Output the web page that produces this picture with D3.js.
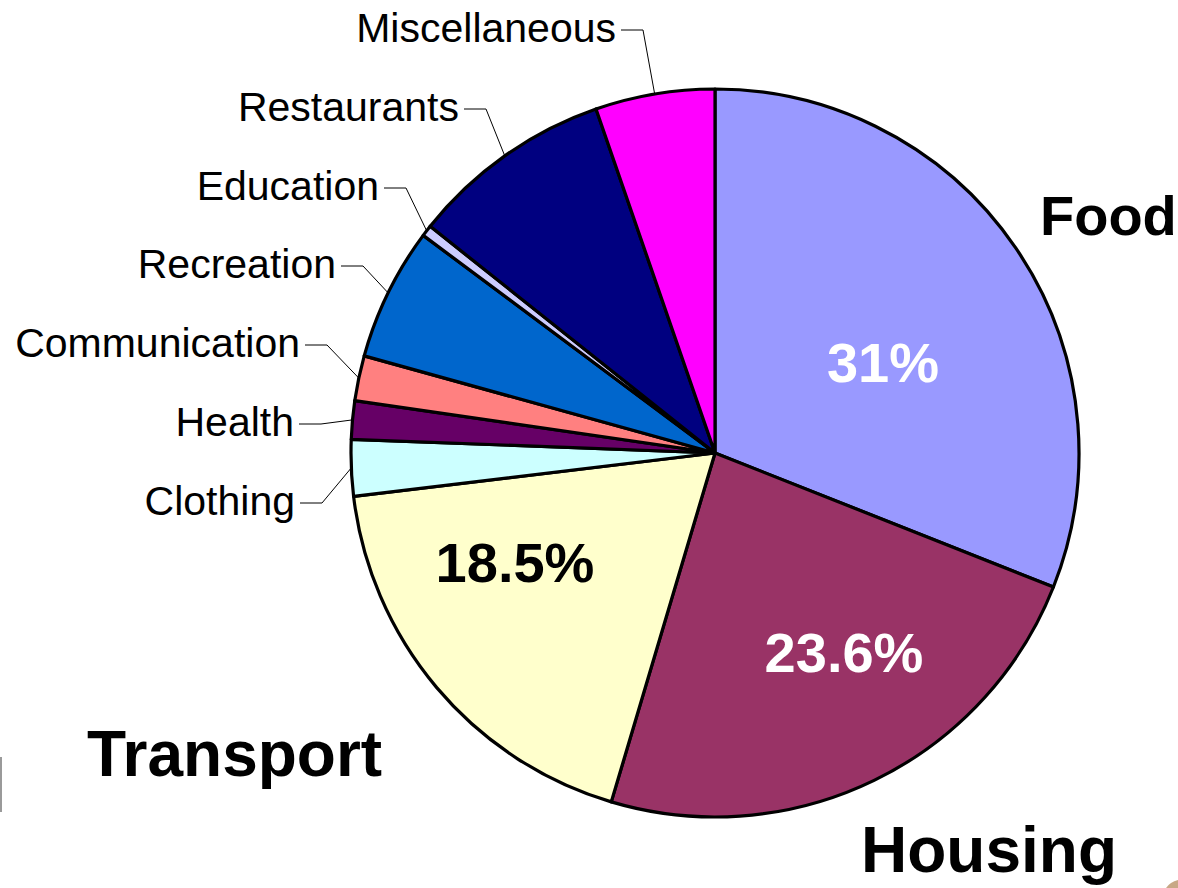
<!DOCTYPE html>
<html>
<head>
<meta charset="utf-8">
<script src="https://cdn.jsdelivr.net/npm/d3@7"></script>
<style>
  html, body { margin: 0; padding: 0; background: #fff; }
  svg { display: block; }
  text { font-family: "Liberation Sans", Arial, sans-serif; }
</style>
</head>
<body>
<svg id="chart" width="1178" height="888"></svg>
<script>
// ---- data ----
const categories = ["Food", "Housing", "Transport", "Clothing", "Health", "Communication",
                    "Recreation", "Education", "Restaurants", "Miscellaneous"];
const values = [31, 23.6, 18.5, 2.5, 1.7, 2.0, 5.9, 0.5, 9.0, 5.3];
const colors = ["#9999FF", "#993366", "#FFFFCC", "#CCFFFF", "#660066", "#FF8080",
                "#0066CC", "#CCCCFF", "#000080", "#FF00FF"];
const valueLabels = ["31%", "23.6%", "18.5%"];

// ---- layout (not data) ----
const W = 1178, H = 888;
const cx = 715, cy = 453, R = 364;

// big name labels: [category, x, baseline y, font size]
const bigNames = [
  ["Food", 1040, 235, 56],
  ["Housing", 861, 872, 64],
  ["Transport", 87, 776, 64]
];
// percent labels: [category index, center x, baseline y, color]
const pctPos = [
  [0, 883, 382, "#ffffff"],
  [1, 844, 672, "#ffffff"],
  [2, 515, 582, "#000000"]
];
// small labels: [category, right-edge x, baseline y]
const smallLabels = [
  ["Miscellaneous", 616, 42],
  ["Restaurants", 459, 121],
  ["Education", 379, 200],
  ["Recreation", 336, 278],
  ["Communication", 300, 357],
  ["Health", 294, 436],
  ["Clothing", 295, 515]
];

const svg = d3.select("#chart");

const pie = d3.pie().sort(null).value(d => d.v).startAngle(0).endAngle(2 * Math.PI);
const data = categories.map((c, i) => ({ name: c, v: values[i], color: colors[i] }));
const arcs = pie(data);
const arc = d3.arc().innerRadius(0).outerRadius(R);

const g = svg.append("g").attr("transform", `translate(${cx},${cy})`);

g.selectAll("path.slice")
  .data(arcs)
  .join("path")
  .attr("class", "slice")
  .attr("d", arc)
  .attr("fill", d => d.data.color)
  .attr("stroke", "#000")
  .attr("stroke-width", 3.2)
  .attr("stroke-linejoin", "round");

// leader lines + small labels
const byName = {};
arcs.forEach(a => byName[a.data.name] = a);

smallLabels.forEach(([name, xr, yb]) => {
  const a = byName[name];
  const mid = (a.startAngle + a.endAngle) / 2;
  const ex = cx + R * Math.sin(mid);
  const ey = cy - R * Math.cos(mid);
  const ly = yb - 12;
  svg.append("polyline")
    .attr("points", `${xr + 5},${ly} ${xr + 27},${ly} ${ex},${ey}`)
    .attr("fill", "none")
    .attr("stroke", "#000")
    .attr("stroke-width", 1);
  svg.append("text")
    .attr("x", xr)
    .attr("y", yb)
    .attr("text-anchor", "end")
    .attr("font-size", 41)
    .attr("fill", "#000")
    .text(name);
});

// big names
bigNames.forEach(([name, x, y, fs]) => {
  svg.append("text")
    .attr("x", x).attr("y", y)
    .attr("font-size", fs)
    .attr("font-weight", "bold")
    .attr("fill", "#000")
    .text(name);
});

// percentages
pctPos.forEach(([i, x, y, col]) => {
  svg.append("text")
    .attr("x", x).attr("y", y)
    .attr("text-anchor", "middle")
    .attr("font-size", 56)
    .attr("font-weight", "bold")
    .attr("fill", col)
    .text(valueLabels[i]);
});

// slide edge artifacts
svg.append("rect").attr("x", 0).attr("y", 757).attr("width", 2).attr("height", 55).attr("fill", "#9a9a9a");
svg.append("path").attr("d", "M1166,888 Q1170,882 1178,880 L1178,888 Z").attr("fill", "#c8a886");
</script>
</body>
</html>
